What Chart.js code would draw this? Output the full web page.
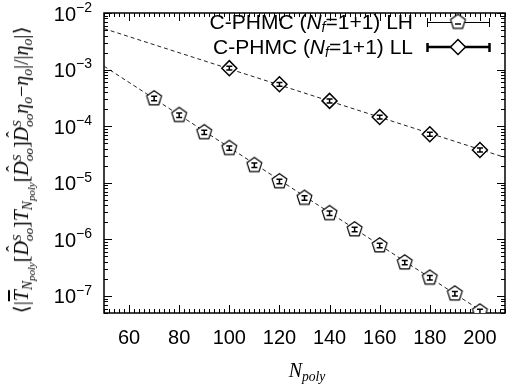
<!DOCTYPE html>
<html><head><meta charset="utf-8">
<script src="https://cdn.jsdelivr.net/npm/chart.js@4"></script>
<style>
html,body{margin:0;padding:0;background:#fff;}
#wrap{position:relative;width:514px;height:390px;overflow:hidden;}
canvas{position:absolute;left:0;top:0;}
#ytitle{position:absolute;left:21px;top:170px;transform:translate(-50%,-50%) rotate(-90deg);white-space:nowrap;font-family:"Liberation Serif",serif;font-style:italic;font-size:20px;color:#000;line-height:1.6;}
#ytitle sub{font-size:0.68em;vertical-align:-0.3em;line-height:0;}
#ytitle sub sub{font-size:0.8em;vertical-align:-0.25em;}
.up{font-style:normal;}
.ov{text-decoration:overline;}
.hat{position:relative;display:inline-block;line-height:1;}
.hat .h{position:absolute;left:0.22em;top:-0.38em;font-style:normal;font-size:0.9em;}
.ss{display:inline-flex;flex-direction:column;font-size:0.66em;line-height:0.95;vertical-align:0.55em;}
#xtitle{position:absolute;left:307px;top:360px;transform:translateX(-50%);white-space:nowrap;font-family:"Liberation Serif",serif;font-style:italic;font-size:20px;line-height:1;}
#xtitle sub{font-size:0.68em;vertical-align:-0.3em;line-height:0;}
</style></head><body>
<div id="wrap">
<canvas id="c" width="514" height="390"></canvas>
<div id="ytitle"><span class="up">⟨|</span><span class="ov">T</span><sub>N<sub>poly</sub></sub><span class="up">[</span><span class="hat">D<span class="h">ˆ</span></span><span class="ss"><span>S</span><span>oo</span></span><span class="up">]</span>T<sub>N<sub>poly</sub></sub><span class="up">[</span><span class="hat">D<span class="h">ˆ</span></span><span class="ss"><span>S</span><span>oo</span></span><span class="up">]</span><span class="hat">D<span class="h">ˆ</span></span><span class="ss"><span>S</span><span>oo</span></span>η<sub>o</sub><span class="up">−</span>η<sub>o</sub><span class="up">|/|</span>η<sub>o</sub><span class="up">|⟩</span></div>
<div id="xtitle">N<sub>poly</sub></div>
</div>
<script>
// ---- data ----
const nLH = [70, 80, 90, 100, 110, 120, 130, 140, 150, 160, 170, 180, 190, 200];
const valLH = [3.1e-4, 1.57e-4, 7.8e-5, 4.1e-5, 2.05e-5, 1.06e-5, 5.4e-6, 2.9e-6, 1.5e-6, 7.8e-7, 3.9e-7, 2.1e-7, 1.1e-7, 5.3e-8];
const errLH = [2.8e-5, 1.4e-5, 7e-6, 3.6e-6, 1.8e-6, 9.5e-7, 4.8e-7, 2.6e-7, 1.35e-7, 7e-8, 3.5e-8, 1.9e-8, 1.0e-8, 5e-9];
const nLL = [100, 120, 140, 160, 180, 200];
const valLL = [1.06e-3, 5.5e-4, 2.8e-4, 1.45e-4, 7.2e-5, 3.8e-5];
const errLL = [8e-5, 4.4e-5, 2.2e-5, 1.15e-5, 5.8e-6, 3e-6];
const fitN = [50, 210];
const fitLH = [1.15e-3, 2.9e-8];
const fitLL = [5.3e-3, 2.8e-5];
const xTickVals = [60, 80, 100, 120, 140, 160, 180, 200];
const yTickExps = [-2, -3, -4, -5, -6, -7];
const legendLabels = ["LH", "LL"];

// pentagon marker
function makePentagon(r) {
  const s = Math.ceil(2 * r + 3);
  const cv = document.createElement('canvas');
  cv.width = s; cv.height = s;
  const g = cv.getContext('2d');
  g.beginPath();
  for (let k = 0; k < 5; k++) {
    const a = -Math.PI / 2 + k * 2 * Math.PI / 5;
    const px = s / 2 + r * Math.cos(a), py = s / 2 + r * Math.sin(a);
    if (k === 0) g.moveTo(px, py); else g.lineTo(px, py);
  }
  g.closePath();
  g.fillStyle = '#fff'; g.fill();
  g.lineWidth = 1.2; g.strokeStyle = '#000'; g.stroke();
  return cv;
}
const pent = makePentagon(7.8);

const pts = (xs, ys) => xs.map((x, i) => ({x: x, y: ys[i]}));

const framePlugin = {
  id: 'frame',
  beforeDatasetsDraw(chart) {
    const {ctx, chartArea: a, scales: {x, y}} = chart;
    ctx.save();
    ctx.strokeStyle = '#000';
    ctx.lineWidth = 1;
    for (let v = 50; v <= 210; v += 2) {
      const px = Math.round(x.getPixelForValue(v)) + 0.5;
      const major = xTickVals.includes(v);
      const L = major ? 8 : 4;
      ctx.beginPath();
      ctx.moveTo(px, a.bottom); ctx.lineTo(px, a.bottom - L);
      ctx.moveTo(px, a.top); ctx.lineTo(px, a.top + L);
      ctx.stroke();
    }
    for (let e = -8; e <= -2; e++) {
      for (let m = 1; m <= 9; m++) {
        const v = m * Math.pow(10, e);
        if (v < y.min * 0.999 || v > y.max * 1.001) continue;
        const py = Math.round(y.getPixelForValue(v)) + 0.5;
        const L = m === 1 ? 8 : 4;
        ctx.beginPath();
        ctx.moveTo(a.left, py); ctx.lineTo(a.left + L, py);
        ctx.moveTo(a.right, py); ctx.lineTo(a.right - L, py);
        ctx.stroke();
      }
    }
    ctx.lineWidth = 1.5;
    ctx.strokeRect(a.left, a.top, a.right - a.left, a.bottom - a.top);
    ctx.fillStyle = '#000';
    ctx.font = '20px "Liberation Sans", Arial, sans-serif';
    ctx.textAlign = 'center'; ctx.textBaseline = 'middle';
    xTickVals.forEach(v => ctx.fillText(String(v), x.getPixelForValue(v), 338));
    yTickExps.forEach(e => {
      const py = y.getPixelForValue(Math.pow(10, e));
      const expStr = '\u2212' + Math.abs(e);
      ctx.font = '14px "Liberation Sans", Arial, sans-serif';
      const ew = ctx.measureText(expStr).width;
      ctx.textAlign = 'left';
      ctx.fillText(expStr, 92 - ew, py - 5);
      ctx.font = '20px "Liberation Sans", Arial, sans-serif';
      ctx.textAlign = 'right';
      ctx.fillText('10', 92 - ew, py + 2);
    });
    ctx.restore();
  },
  afterDatasetsDraw(chart) {
    const {ctx, chartArea: a, scales: {x, y}} = chart;
    ctx.save();
    ctx.beginPath();
    ctx.rect(a.left, a.top, a.right - a.left, a.bottom - a.top);
    ctx.clip();
    ctx.strokeStyle = '#000';
    ctx.lineWidth = 1.5;
    const bars = (xs, vs, es) => xs.forEach((n, i) => {
      const px = x.getPixelForValue(n);
      const y1 = y.getPixelForValue(vs[i] - es[i]);
      const y2 = y.getPixelForValue(vs[i] + es[i]);
      ctx.beginPath();
      ctx.moveTo(px, y1); ctx.lineTo(px, y2);
      ctx.moveTo(px - 3, y1); ctx.lineTo(px + 3, y1);
      ctx.moveTo(px - 3, y2); ctx.lineTo(px + 3, y2);
      ctx.stroke();
    });
    bars(nLH, valLH, errLH);
    bars(nLL, valLL, errLL);
    ctx.restore();
  },
  afterDraw(chart) {
    const {ctx} = chart;
    ctx.save();
    const rows = [22, 47];
    rows.forEach((ry, i) => {
      const parts = [
        {t: 'C-PHMC (', f: '21px "Liberation Sans", Arial, sans-serif', dy: 0},
        {t: 'N', f: 'italic 21px "Liberation Sans", Arial, sans-serif', dy: 0},
        {t: 'f', f: 'italic 14px "Liberation Sans", Arial, sans-serif', dy: 5},
        {t: '=1+1) ' + legendLabels[i], f: '21px "Liberation Sans", Arial, sans-serif', dy: 0}
      ];
      let total = 0;
      parts.forEach(p => { ctx.font = p.f; p.w = ctx.measureText(p.t).width; total += p.w; });
      let cx = 413 - total;
      ctx.fillStyle = '#000';
      ctx.textAlign = 'left'; ctx.textBaseline = 'middle';
      parts.forEach(p => { ctx.font = p.f; ctx.fillText(p.t, cx, ry + 1 + p.dy); cx += p.w; });
      ctx.strokeStyle = '#000';
      const ly = i === 0 ? ry + 0.5 : ry;
      ctx.lineWidth = i === 0 ? 1 : 2.5;
      ctx.beginPath();
      ctx.moveTo(427, ly); ctx.lineTo(490, ly);
      ctx.moveTo(427.5, ry - 4); ctx.lineTo(427.5, ry + 5);
      ctx.moveTo(489.5, ry - 4); ctx.lineTo(489.5, ry + 5);
      ctx.stroke();
      if (i === 0) {
        ctx.drawImage(pent, 458 - pent.width / 2, ry - pent.height / 2);
        ctx.lineWidth = 1.5;
        ctx.beginPath();
        ctx.moveTo(455, ry + 2); ctx.lineTo(461, ry + 2);
        ctx.stroke();
      } else {
        ctx.beginPath();
        ctx.moveTo(458, ry - 7.5); ctx.lineTo(465.5, ry); ctx.lineTo(458, ry + 7.5); ctx.lineTo(450.5, ry);
        ctx.closePath();
        ctx.fillStyle = '#fff'; ctx.fill();
        ctx.lineWidth = 1.5; ctx.stroke();
      }
    });
    ctx.restore();
  }
};

new Chart(document.getElementById('c'), {
  type: 'scatter',
  data: {
    datasets: [
      {label: 'C-PHMC (Nf=1+1) LH', data: pts(nLH, valLH), pointStyle: pent, pointRadius: 8, pointHoverRadius: 8, showLine: false},
      {label: 'C-PHMC (Nf=1+1) LL', data: pts(nLL, valLL), pointStyle: 'rectRot', pointRadius: 7.5, pointHoverRadius: 7.5, backgroundColor: '#fff', borderColor: '#000', borderWidth: 1.5, showLine: false},
      {label: 'fit LH', data: pts(fitN, fitLH), showLine: true, pointRadius: 0, borderColor: '#222', borderWidth: 1, borderDash: [4, 3], fill: false},
      {label: 'fit LL', data: pts(fitN, fitLL), showLine: true, pointRadius: 0, borderColor: '#222', borderWidth: 1, borderDash: [4, 3], fill: false}
    ]
  },
  options: {
    responsive: false,
    animation: false,
    events: [],
    layout: {padding: {left: 104, top: 13, right: 3, bottom: 77}},
    plugins: {legend: {display: false}, tooltip: {enabled: false}},
    scales: {
      x: {type: 'linear', min: 50, max: 210, display: false},
      y: {type: 'logarithmic', min: 5e-8, max: 1e-2, display: false}
    }
  },
  plugins: [framePlugin]
});
</script>
</body></html>
